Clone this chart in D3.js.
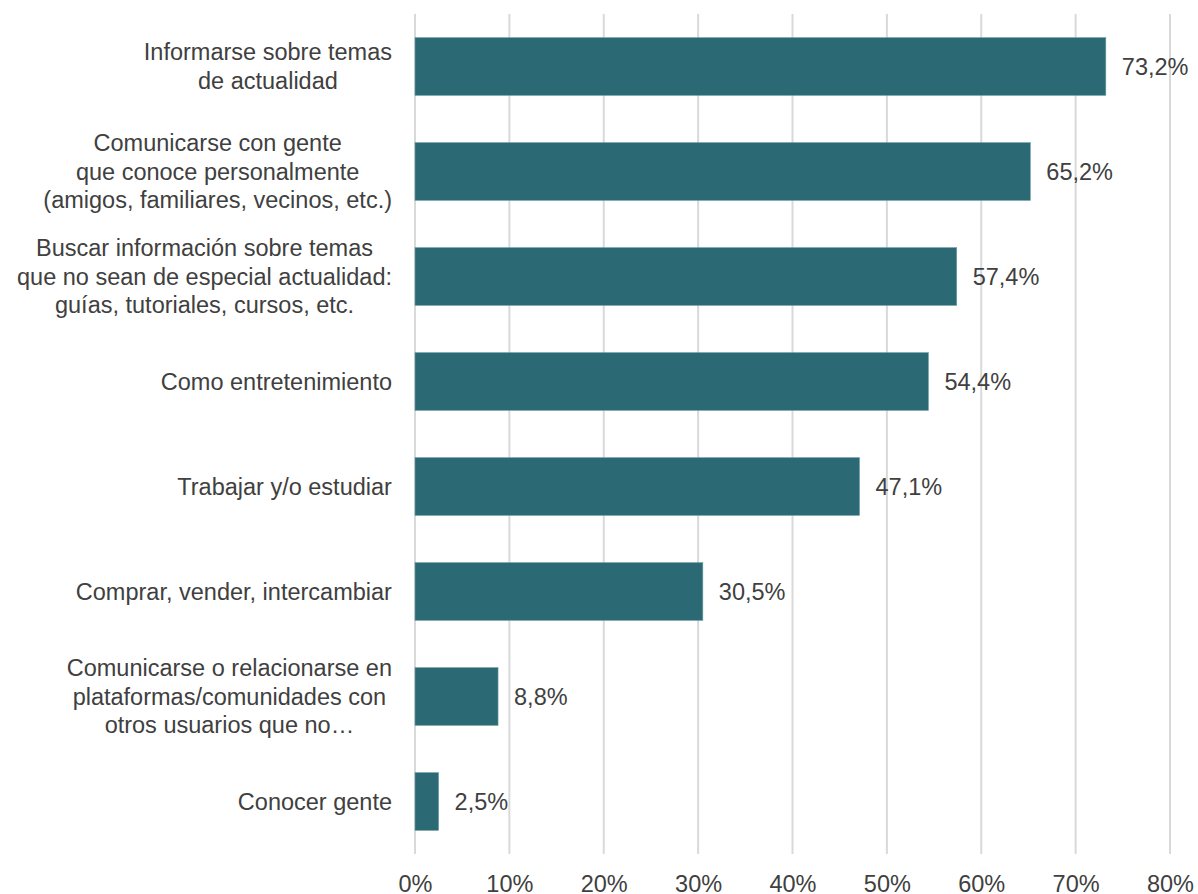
<!DOCTYPE html>
<html>
<head>
<meta charset="utf-8">
<script src="https://cdn.jsdelivr.net/npm/d3@7"></script>
<style>
  body { margin: 0; background: #fff; }
  text { font-family: "Liberation Sans", Arial, sans-serif; fill: #404040; }
</style>
</head>
<body>
<div id="content"></div>
<script>
'use strict';

// categories, one array of lines per label
var categories = [
    ['Informarse sobre temas', 'de actualidad'],
    ['Comunicarse con gente', 'que conoce personalmente', '(amigos, familiares, vecinos, etc.)'],
    ['Buscar información sobre temas', 'que no sean de especial actualidad:', 'guías, tutoriales, cursos, etc.'],
    ['Como entretenimiento'],
    ['Trabajar y/o estudiar'],
    ['Comprar, vender, intercambiar'],
    ['Comunicarse o relacionarse en', 'plataformas/comunidades con', 'otros usuarios que no…'],
    ['Conocer gente']
];
var values = [73.2, 65.2, 57.4, 54.4, 47.1, 30.5, 8.8, 2.5];
var tickValues = [0, 10, 20, 30, 40, 50, 60, 70, 80];

function run() {
    var width = 1198, height = 894;
    var margin = { top: 14, left: 415, right: 28, bottom: 40 };
    var innerW = width - margin.left - margin.right;
    var innerH = height - margin.top - margin.bottom;
    var fontSize = '23.5px';

    var svg = d3.select('#content').append('svg')
        .attr('width', width)
        .attr('height', height);

    var chart = svg.append('g')
        .attr('transform', 'translate(' + margin.left + ' ' + margin.top + ')');

    var x = d3.scaleLinear().domain([0, 80]).range([0, innerW]);
    var y = d3.scaleBand()
        .domain(d3.range(categories.length))
        .range([0, innerH])
        .paddingInner(0.45)
        .paddingOuter(0.225);

    // gridlines
    chart.selectAll('.grid')
        .data(tickValues)
        .enter().append('line')
        .attr('class', 'grid')
        .attr('x1', function (d) { return x(d); })
        .attr('x2', function (d) { return x(d); })
        .attr('y1', 0)
        .attr('y2', innerH)
        .style('stroke', '#d9d9d9')
        .style('stroke-width', 2);

    // x axis labels
    var xAxis = chart.append('g')
        .attr('transform', 'translate(0 ' + innerH + ')')
        .call(d3.axisBottom(x)
            .tickValues(tickValues)
            .tickSize(0)
            .tickPadding(21)
            .tickFormat(function (d) { return d + '%'; }));
    xAxis.select('.domain').remove();
    xAxis.selectAll('text')
        .style('font-size', fontSize)
        .style('fill', '#404040')
        .style('font-family', '"Liberation Sans", Arial, sans-serif');

    chart.selectAll('.bar')
        .data(values)
        .enter().append('rect')
        .attr('class', 'bar')
        .attr('x', x(0))
        .attr('y', function (d, i) { return y(i); })
        .attr('width', function (d) { return x(d) - x(0); })
        .attr('height', y.bandwidth())
        .style('fill', '#2b6a74')
        .style('stroke', '#6b9ca4')
        .style('stroke-width', 0.6);

    chart.selectAll('.value')
        .data(values)
        .enter().append('text')
        .attr('class', 'value')
        .attr('x', function (d) { return x(d) + 16; })
        .attr('y', function (d, i) { return y(i) + y.bandwidth() / 2; })
        .attr('dy', '.35em')
        .style('font-size', fontSize)
        .text(function (d) { return d3.format('.1f')(d).replace('.', ',') + '%'; });

    // category labels: lines centered inside a block that is right aligned
    var lineH = 28.5;
    var labels = chart.selectAll('.label')
        .data(categories)
        .enter().append('g')
        .attr('class', 'label');

    labels.each(function (lines, i) {
        var g = d3.select(this);
        var cy = y(i) + y.bandwidth() / 2;
        var t = g.append('text')
            .style('font-size', fontSize)
            .attr('text-anchor', 'middle');
        lines.forEach(function (line, j) {
            t.append('tspan')
                .attr('x', 0)
                .attr('y', cy + (j - (lines.length - 1) / 2) * lineH)
                .attr('dy', '.35em')
                .text(line);
        });
        var w = t.node().getBBox().width;
        t.attr('transform', 'translate(' + (-23 - w / 2) + ' 0)');
    });
}

document.addEventListener('DOMContentLoaded', run);
</script>
</body>
</html>
